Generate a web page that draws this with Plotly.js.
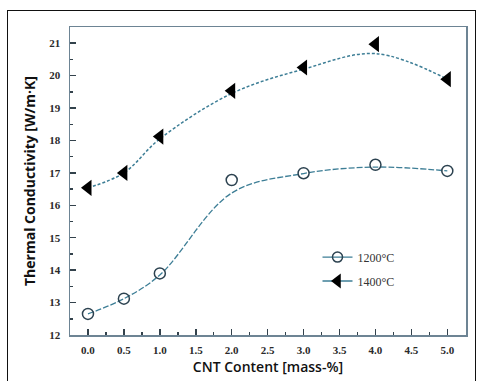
<!DOCTYPE html>
<html>
<head>
<meta charset="utf-8">
<script src="https://cdn.plot.ly/plotly-3.0.1.min.js"></script>
<style>
html,body{margin:0;padding:0;background:#fff;}
#wrap{position:relative;width:478px;height:381px;overflow:hidden;}
#frame{position:absolute;left:7px;top:10px;width:467px;height:380px;border-left:1.5px solid #111;border-top:1.5px solid #111;border-right:1.5px solid #111;pointer-events:none;}
#chart{position:absolute;left:0;top:0;width:478px;height:381px;}
</style>
</head>
<body>
<div id="wrap"><div id="chart"></div><div id="frame"></div></div>
<script>
// CNT content [mass-%]
const cnt = [0, 0.5, 1.0, 2.0, 3.0, 4.0, 5.0];
// measured thermal conductivity [W/m·K]
const k1200 = [12.65, 13.12, 13.9, 16.78, 16.99, 17.25, 17.06];
const k1400 = [16.54, 17.0, 18.12, 19.53, 20.25, 20.97, 19.89];
// fitted trend curves at the same x
const fit1200 = [12.65, 13.12, 13.85, 16.38, 16.98, 17.18, 17.06];
const fit1400 = [16.54, 17.0, 18.05, 19.45, 20.2, 20.68, 19.89];
const seriesNames = ['1200°C', '1400°C'];
const xTicks = [0, 0.5, 1, 1.5, 2, 2.5, 3, 3.5, 4, 4.5, 5];
const xTickText = ['0.0','0.5','1.0','1.5','2.0','2.5','3.0','3.5','4.0','4.5','5.0'];
const yTicks = [12,13,14,15,16,17,18,19,20,21];

const lineCol = '#3d7e96';
const serif = 'Liberation Serif, Times New Roman, serif';

const traces = [
  {x: cnt, y: fit1200, mode: 'lines', line: {shape: 'spline', smoothing: 1, color: lineCol, width: 1.3, dash: '6px,2px'}, showlegend: false, hoverinfo: 'skip'},
  {x: cnt, y: fit1400, mode: 'lines', line: {shape: 'spline', smoothing: 1, color: lineCol, width: 1.5, dash: '3px,2px'}, showlegend: false, hoverinfo: 'skip'},
  {x: cnt, y: k1200, mode: 'markers', marker: {symbol: 'circle-open', size: 11, color: '#2c4250', line: {width: 1.5}}, showlegend: false},
  {x: cnt, y: k1400, mode: 'markers', marker: {symbol: 'triangle-left', size: 14, color: '#000'}, showlegend: false},
  {x: [null], y: [null], name: seriesNames[0], legendgroup: 'a', mode: 'lines+markers', line: {color: lineCol, width: 1.3}, marker: {symbol: 'circle-open', size: 10, color: '#2c4250', line: {width: 1.5}}},
  {x: [null], y: [null], name: seriesNames[1], legendgroup: 'b', mode: 'lines+markers', line: {color: lineCol, width: 1.5}, marker: {symbol: 'triangle-left', size: 13, color: '#000'}}
];

const axisCommon = {
  showline: true, mirror: true, linecolor: '#6d8494', linewidth: 1.5,
  showgrid: false, zeroline: false, ticks: 'inside', ticklen: 6, tickwidth: 1.5, tickcolor: '#33424c',
  tickfont: {family: serif, size: 11, color: '#2a2a2a', weight: 'bold'}
};

const layout = {
  width: 478, height: 381,
  margin: {l: 70, r: 12, t: 27, b: 46},
  paper_bgcolor: '#fff', plot_bgcolor: '#fff',
  showlegend: true,
  legend: {x: 0.625, y: 0.3, xanchor: 'left', yanchor: 'top', bgcolor: 'rgba(0,0,0,0)',
           font: {family: serif, size: 12, color: '#333'}, itemwidth: 30,
           traceorder: 'grouped', tracegroupgap: 5},
  xaxis: Object.assign({}, axisCommon, {
    range: [-0.25, 5.26], tickvals: xTicks, ticktext: xTickText, ticklabelstandoff: 4,
    minor: {dtick: 0.25, ticks: 'inside', ticklen: 3, tickcolor: '#33424c'},
    title: {text: 'CNT Content [mass-%]', standoff: 7, font: {family: 'Open Sans, sans-serif', size: 14, color: '#111', weight: 600}}
  }),
  yaxis: Object.assign({}, axisCommon, {
    range: [12, 21.5], tickvals: yTicks, ticklabelstandoff: 6,
    minor: {dtick: 0.5, ticks: 'inside', ticklen: 3, tickcolor: '#33424c'},
    title: {text: 'Thermal Conductivity [W/m·K]', standoff: 10, font: {family: 'Open Sans, sans-serif', size: 14, color: '#111', weight: 700}}
  })
};

Plotly.newPlot('chart', traces, layout, {displayModeBar: false, staticPlot: true});
</script>
</body>
</html>
